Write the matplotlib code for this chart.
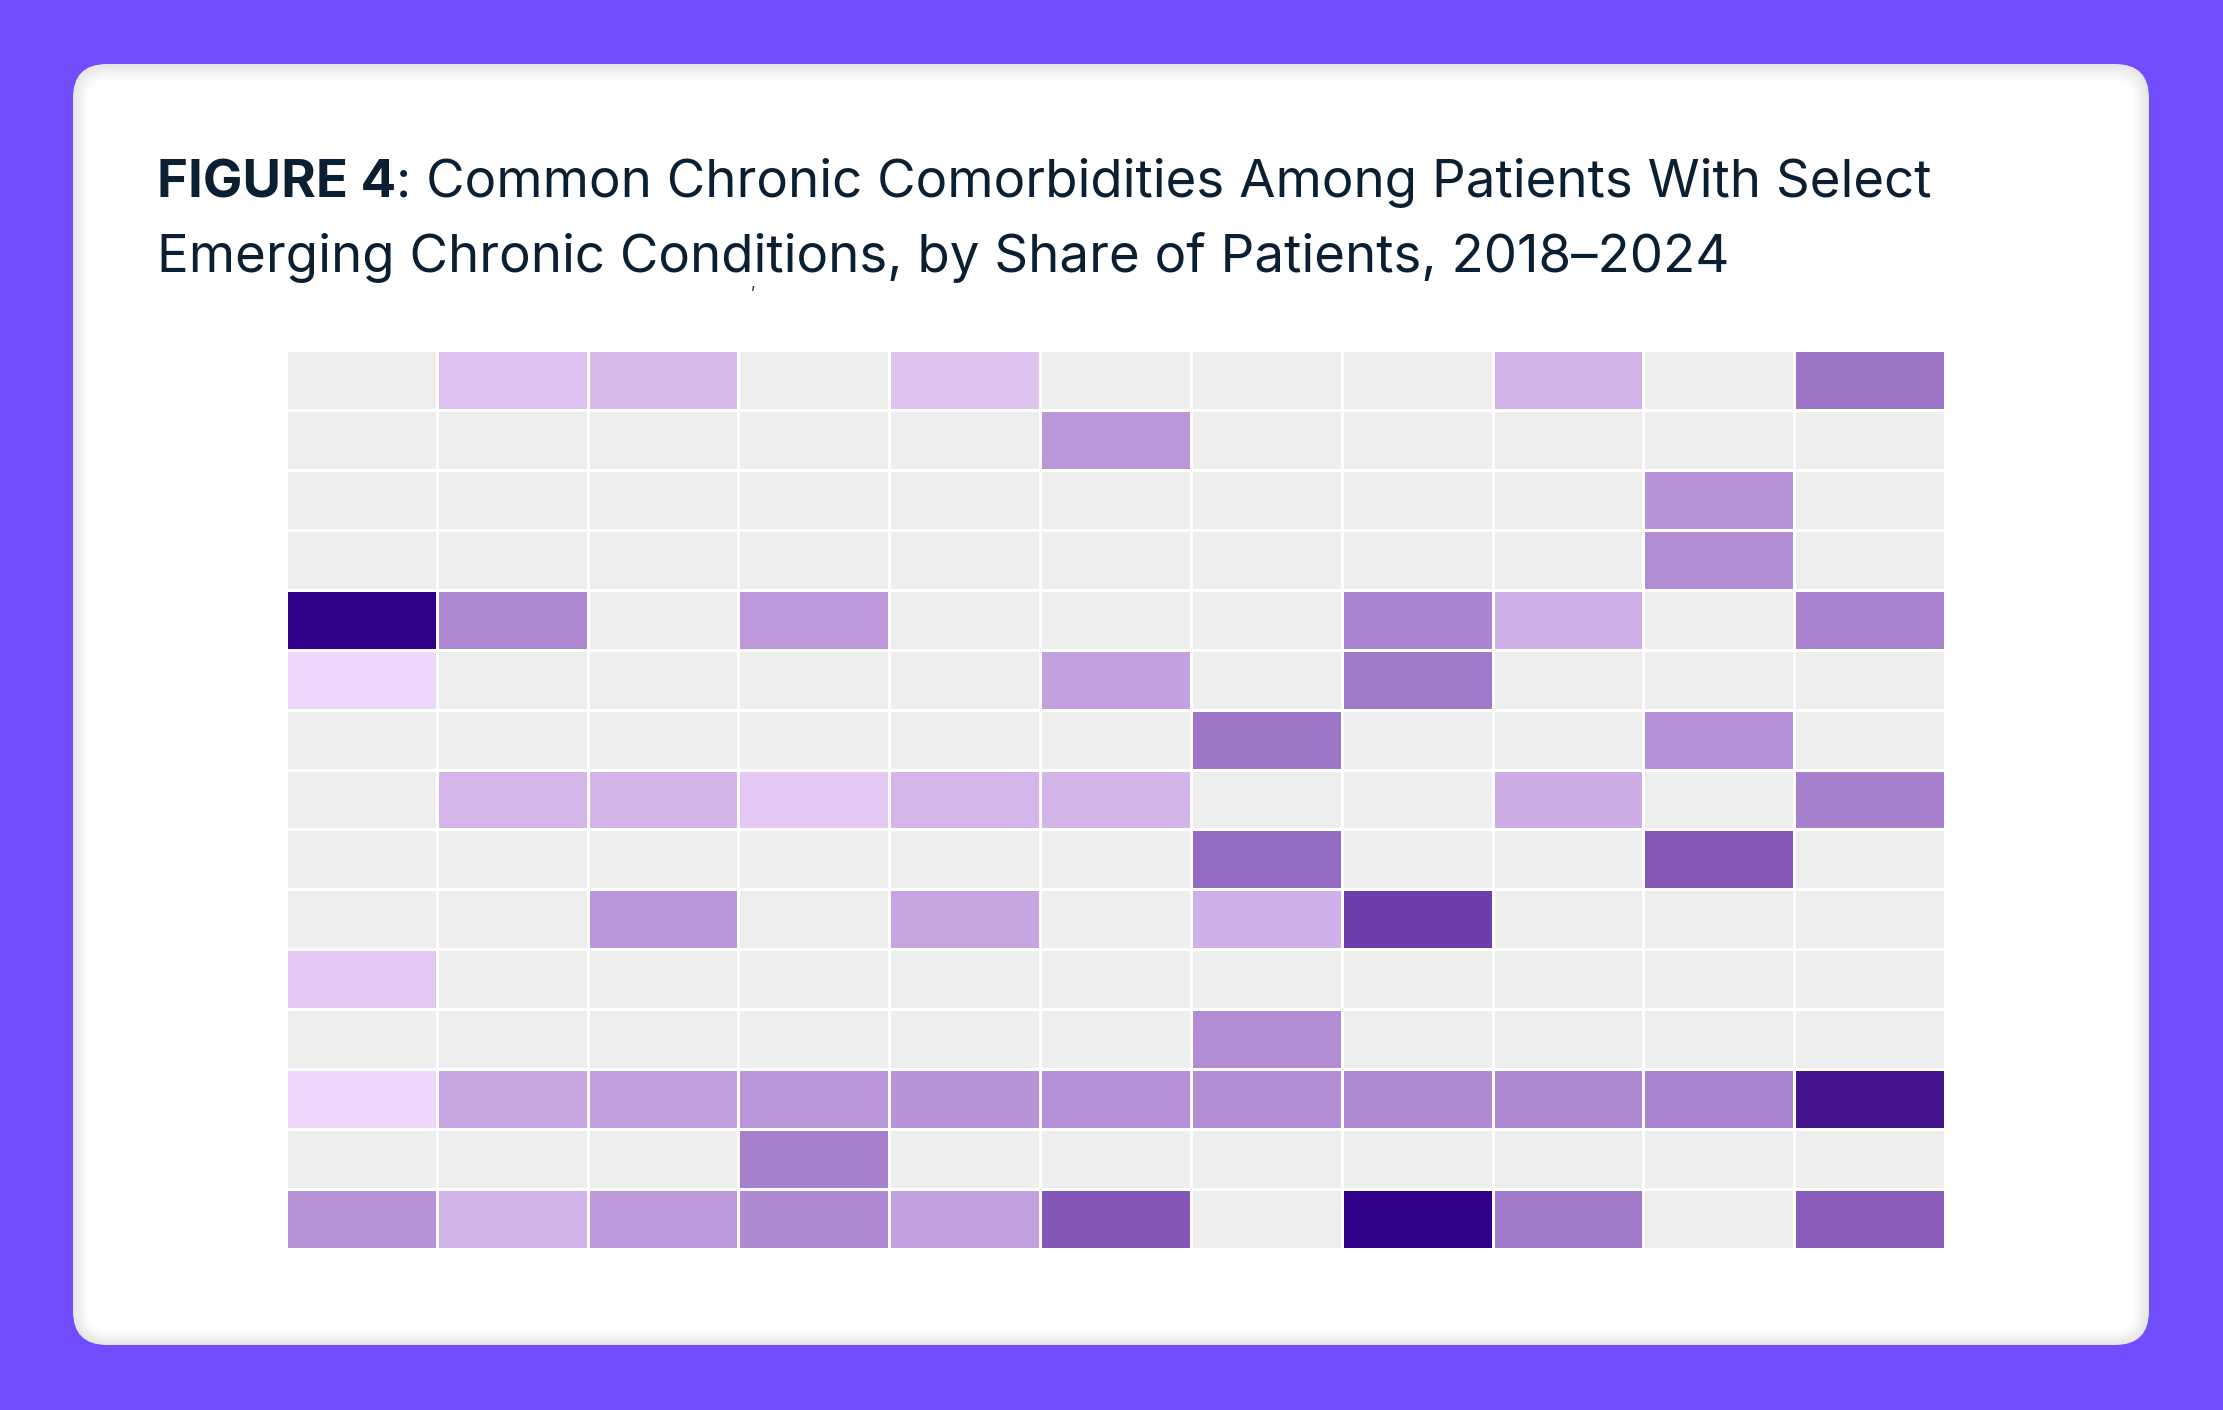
import matplotlib
matplotlib.use("Agg")
import matplotlib.pyplot as plt
from matplotlib.colors import LinearSegmentedColormap, Normalize
from matplotlib.patches import FancyBboxPatch
import numpy as np

# share of patients (%) per cell, nan = no comorbidity shown (grey)
n = np.nan
row_labels = [f"Comorbidity {i + 1}" for i in range(15)]
col_labels = [f"Condition {j + 1}" for j in range(11)]
shares = np.array([
    [n, 15.5, 18, n, 15, n, n, n, 20, n, 39],
    [n, n, n, n, n, 28, n, n, n, n, n],
    [n, n, n, n, n, n, n, n, n, 29, n],
    [n, n, n, n, n, n, n, n, n, 31, n],
    [60, 33, n, 27.5, n, n, n, 34.5, 21, n, 35],
    [10.5, n, n, n, n, 25, n, 37.5, n, n, n],
    [n, n, n, n, n, n, 38.5, n, n, 30, n],
    [n, 19, 19.5, 14, 19, 19.5, n, n, 22, n, 35.5],
    [n, n, n, n, n, n, 41, n, n, 45, n],
    [n, n, 28.5, n, 24, n, 21, 50, n, n, n],
    [14, n, n, n, n, n, n, n, n, n, n],
    [n, n, n, n, n, n, 31.5, n, n, n, n],
    [10.5, 23.5, 26, 28.5, 29, 30, 31, 32.5, 33, 34.5, 55.5],
    [n, n, n, 35.5, n, n, n, n, n, n, n],
    [29.5, 20, 27.5, 33, 25, 45.5, n, 60, 37.5, n, 44],
])

title_bold = "FIGURE 4"
title_rest = ": Common Chronic Comorbidities Among Patients With Select"
title_line2 = "Emerging Chronic Conditions, by Share of Patients, 2018\u20132024"

W, H = 2223, 1410
fig = plt.figure(figsize=(W / 100, H / 100), dpi=100)
fig.patch.set_facecolor("#714dff")

# background layer in pixel coordinates (y down)
bg = fig.add_axes([0, 0, 1, 1])
bg.set_xlim(0, W)
bg.set_ylim(H, 0)
bg.axis("off")

cx0, cy0, cx1, cy1 = 73, 64, 2149, 1345
bg.add_patch(FancyBboxPatch((cx0, cy0), cx1 - cx0, cy1 - cy0,
                            boxstyle="round,pad=0,rounding_size=34",
                            fc="#e6e6e6", ec="none"))
# soft inner shading near the card edge
for i in range(1, 16):
    a = i / 15
    g = 0.90 + 0.10 * a
    bg.add_patch(FancyBboxPatch((cx0 + i, cy0 + i * 1.1), cx1 - cx0 - 2 * i, cy1 - cy0 - i * 2.0,
                                boxstyle=f"round,pad=0,rounding_size={max(34 - i, 18)}",
                                fc=(g, g, g), ec="none"))

# title
font = "DejaVu Sans"
for f in ["Inter", "Lato"]:
    if f in [x.name for x in matplotlib.font_manager.fontManager.ttflist]:
        font = f
        break
tcol = "#0b1f33"
fs = 38
t1 = fig.text(157 / W, 1 - 197 / H, title_bold, fontsize=fs, fontweight="bold",
              color=tcol, family=font, va="baseline", ha="left")
r = fig.canvas.get_renderer()
bb = t1.get_window_extent(r)
fig.text(bb.x1 / W, 1 - 197 / H, title_rest, fontsize=fs, color=tcol,
         family=font, va="baseline", ha="left")
fig.text(157 / W, 1 - 272 / H, title_line2, fontsize=fs, color=tcol,
         family=font, va="baseline", ha="left")
fig.text(751 / W, 1 - 298 / H, "\u02bc", fontsize=11, color=tcol, family=font)

# heatmap
cmap = LinearSegmentedColormap.from_list("purp", [
    (0.00, "#f0d8fc"), (0.10, "#dec3f1"), (0.20, "#d2b3e9"), (0.30, "#c3a1df"),
    (0.40, "#b690d6"), (0.50, "#a882ce"), (0.60, "#9870c4"), (0.70, "#8658b8"),
    (0.80, "#6c3fab"), (0.90, "#46168f"), (1.00, "#310088")])
cmap.set_bad("#eeeeee")
norm = Normalize(vmin=10, vmax=60)

ax = fig.add_axes([286 / W, 1 - 1249 / H, (1945 - 286) / W, (1249 - 350) / H])
ax.pcolormesh(np.ma.masked_invalid(shares), cmap=cmap, norm=norm,
              edgecolors="white", linewidth=2)
ax.set_xlim(0, len(col_labels))
ax.set_ylim(len(row_labels), 0)
ax.axis("off")

fig.savefig("out.png", dpi=100, facecolor=fig.get_facecolor())
